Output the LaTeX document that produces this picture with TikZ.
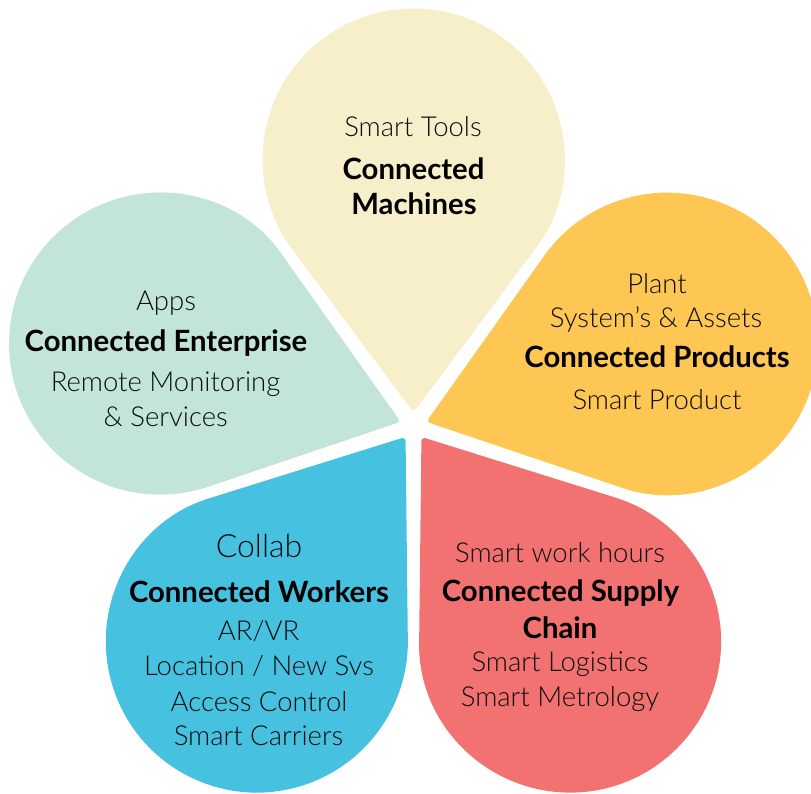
\documentclass[tikz,border=0pt]{standalone}
\usepackage{fontspec}
\IfFontExistsTF{Lato Light}{%
  \setmainfont{Lato Light}[BoldFont={Lato Bold}]}{%
  \setmainfont{Lato}}
\usetikzlibrary{calc}
\definecolor{petalTop}{HTML}{F7EFC9}
\definecolor{petalRight}{HTML}{FEC653}
\definecolor{petalRed}{HTML}{F27171}
\definecolor{petalBlue}{HTML}{47C1E0}
\definecolor{petalMint}{HTML}{C2E4DA}
\newcommand\drawpetal[3]{%
  \coordinate (#1C) at ($(F)+(#2:266.5)$);
  \coordinate (#1T) at ($(F)+(#2:13.5)$);
  \coordinate (#1P) at ($(#1C)+({#2+180-53.36}:151)$);
  \coordinate (#1Q) at ($(#1C)+({#2+180+53.36}:151)$);
  \fill[#3] (#1P) [rounded corners=4pt] -- (#1T) -- (#1Q) [sharp corners]
    arc[start angle={#2+233.36}, end angle={#2+486.64}, radius=151] -- cycle;
}
\begin{document}
\begin{tikzpicture}[x=1pt,y=1pt,
  reg/.style={anchor=base, inner sep=0pt, font=\fontsize{27.5}{32}\selectfont, text=black!95},
  big/.style={anchor=base, inner sep=0pt, font=\fontsize{32}{36}\selectfont, text=black!95},
  bld/.style={anchor=base, inner sep=0pt, font=\fontsize{29.3}{34}\selectfont\bfseries, text=black}]
\useasboundingbox (0,0) rectangle (811,793);
\clip (0,0) rectangle (811,793);
\coordinate (F) at (413.5,367);
\drawpetal{top}{90}{petalTop}
\drawpetal{left}{162}{petalMint}
\drawpetal{blue}{234}{petalBlue}
\drawpetal{red}{306}{petalRed}
\drawpetal{right}{18}{petalRight}
% top
\node[reg] (t1) at (413,656) {Smart Tools};
\node[bld] (t2) at (413.5,613) {Connected};
\node[bld] (t3) at (414,578) {Machines};
% left
\node[reg] (l1) at (166,482.3) {Apps};
\node[bld] (l2) at (166,441) {Connected Enterprise};
\node[reg] (l3) at (165.5,401.3) {Remote Monitoring};
\node[reg] (l4) at (165.7,366.3) {\& Services};
% right
\node[reg] (r1) at (657,499) {Plant};
\node[reg] (r2) at (656,465) {System’s \& Assets};
\node[bld] (r3) at (657,425) {Connected Products};
\node[reg] (r4) at (657,383) {Smart Product};
% blue
\node[big] (b1) at (259,235) {Collab};
\node[bld] (b2) at (259,190) {Connected Workers};
\node[reg] (b3) at (258.5,153) {AR/VR};
\node[reg] (b4) at (259,117.3) {Location / New Svs};
\node[reg] (b5) at (259,82) {Access Control};
\node[reg] (b6) at (258.5,47.3) {Smart Carriers};
% red
\node[reg] (s1) at (560,230.3) {Smart work hours};
\node[bld] (s2) at (560.5,191.3) {Connected Supply};
\node[bld] (s3) at (560,155) {Chain};
\node[reg] (s4) at (560,121.3) {Smart Logistics};
\node[reg] (s5) at (560,86.3) {Smart Metrology};
\end{tikzpicture}
\end{document}
